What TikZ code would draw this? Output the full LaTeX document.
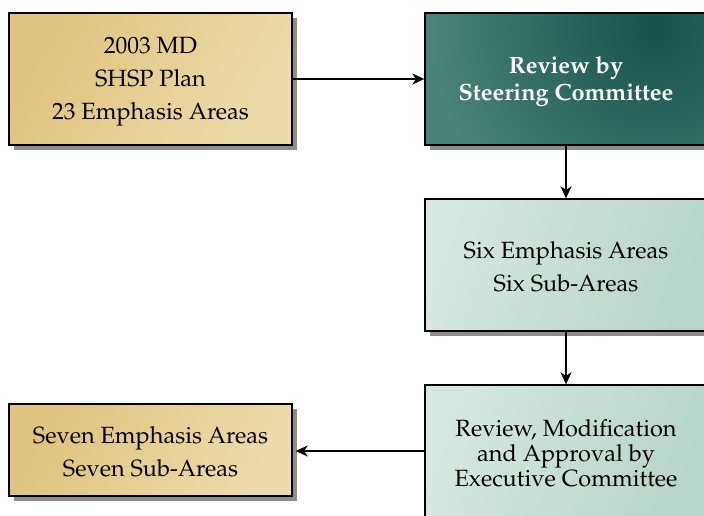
\documentclass[tikz,border=0pt]{standalone}
\usepackage[T1]{fontenc}
\usepackage{mathpazo}
\usetikzlibrary{arrows.meta,shadows}
\definecolor{tanA}{HTML}{DFC37E}
\definecolor{tanB}{HTML}{ECDBAA}
\definecolor{tealIn}{HTML}{15524A}
\definecolor{tealOut}{HTML}{4A8479}
\definecolor{mintA}{HTML}{D6E7DF}
\definecolor{mintB}{HTML}{B7D5CA}
\definecolor{shadowgray}{HTML}{8E8E8E}
\tikzset{
  boxbase/.style={draw=black, line width=1.3pt, inner sep=0pt,
    drop shadow={shadow xshift=5pt, shadow yshift=-5pt, fill=shadowgray, opacity=1}},
  tanbox/.style={boxbase, shading=axis, left color=tanA, right color=tanB, shading angle=60,
    minimum width=283pt},
  tealbox/.style={boxbase, fill=tealOut,
    path picture={\shade[inner color=tealIn, outer color=tealOut]
      ([xshift=-50pt,yshift=-15pt]path picture bounding box.north east) circle (230pt);},
    minimum width=282pt, minimum height=132pt},
  mintbox/.style={boxbase, shading=axis, left color=mintA, right color=mintB, shading angle=70,
    minimum width=282pt, minimum height=132pt},
  boxtext/.style={align=center, inner sep=0pt, font=\fontsize{23.5}{33}\selectfont},
  conn/.style={line width=1.6pt, -{Stealth[length=12pt,width=11pt,inset=3.5pt]}}
}
\begin{document}
\begin{tikzpicture}[x=1pt,y=-1pt]
\useasboundingbox (0,0) rectangle (704,515);
\node[tanbox, minimum height=132pt] (plan) at (150.5,79) {};
\node[boxtext] (plan-t) at ([yshift=-3pt]plan.center) {2003 MD\\SHSP Plan\\23 Emphasis Areas};
\node[tealbox] (steer) at (566,79) {};
\node[boxtext, text=white, font=\fontsize{23.5}{27}\selectfont\bfseries] (steer-t) at ([yshift=-2.5pt]steer.center) {Review by\\Steering Committee};
\node[mintbox] (six) at (566,265) {};
\node[boxtext] (six-t) at ([yshift=-2pt]six.center) {Six Emphasis Areas\\Six Sub-Areas};
\node[mintbox] (exec) at (566,451) {};
\node[boxtext, font=\fontsize{23.5}{25}\selectfont] (exec-t) at ([yshift=-2pt]exec.center) {Review, Modification\\and Approval by\\Executive Committee};
\node[tanbox, minimum height=92pt] (seven) at (150.5,450) {};
\node[boxtext] (seven-t) at ([yshift=-2pt]seven.center) {Seven Emphasis Areas\\Seven Sub-Areas};
\draw[conn] (plan.east) -- (steer.west);
\draw[conn] (steer.south) -- (six.north);
\draw[conn] (six.south) -- (exec.north);
\draw[conn] (exec.west) -- ([xshift=3pt]seven.east |- exec.west);
\end{tikzpicture}
\end{document}
